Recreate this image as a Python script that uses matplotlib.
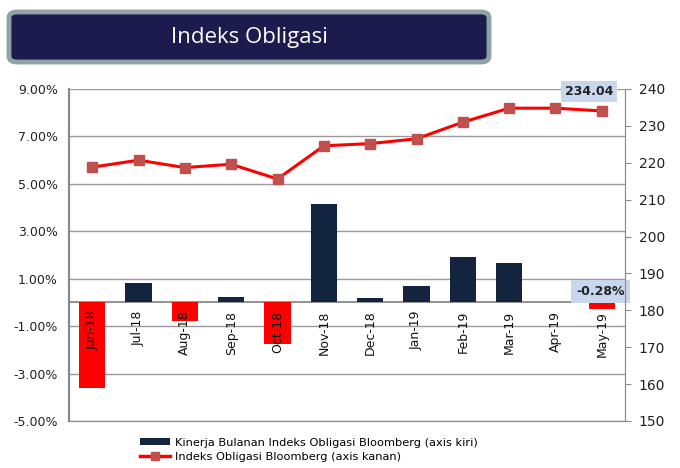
"""
Indeks Obligasi: monthly bond index return (bars, left axis) vs index level (line, right axis).
"""
import matplotlib
matplotlib.use('Agg')
import matplotlib.pyplot as plt
from matplotlib.patches import FancyBboxPatch, Patch
from matplotlib.lines import Line2D

months = ["Jun-18", "Jul-18", "Aug-18", "Sep-18", "Oct-18", "Nov-18",
          "Dec-18", "Jan-19", "Feb-19", "Mar-19", "Apr-19", "May-19"]
monthly_return = [-3.59, 0.81, -0.78, 0.24, -1.76, 4.16,
                  0.18, 0.70, 1.91, 1.68, 0.00, -0.28]
index_level = [218.8, 220.7, 218.7, 219.6, 215.6, 224.6,
               225.2, 226.5, 231.0, 234.8, 234.8, 234.04]
left_ticks = [-5, -3, -1, 1, 3, 5, 7, 9]
right_ticks = [150, 160, 170, 180, 190, 200, 210, 220, 230, 240]

NAVY = '#13243F'
RED = '#FF0000'
MARKER = '#C0504D'
GRID = '#9A9A9A'

fig = plt.figure(figsize=(6.8, 4.68), dpi=100)
ax = fig.add_axes([69 / 680, 1 - 421 / 468, 556 / 680, 332 / 468])
ax2 = ax.twinx()

x = list(range(len(months)))
bar_colors = [RED if v < 0 else NAVY for v in monthly_return]
ax.bar(x, monthly_return, width=0.57, color=bar_colors, zorder=3)

ax.set_xlim(-0.5, len(months) - 0.5)
ax.set_ylim(-5, 9)
ax.set_yticks(left_ticks)
ax.set_yticklabels([f"{t:.2f}%" for t in left_ticks])
ax.yaxis.grid(True, color=GRID, linewidth=1.0, zorder=0)
ax.axhline(0, color='#7F7F7F', linewidth=1.2, zorder=2)
ax.set_xticks([])
ax.tick_params(axis='y', length=0, labelsize=9, labelcolor='#222222', pad=8)

for i, lab in enumerate(months):
    ax.text(i, -0.35, lab, rotation=90, ha='center', va='top',
            fontsize=9, color='#111111', zorder=4)

for a in (ax, ax2):
    a.spines['left'].set_color('#7F8A99')
    a.spines['left'].set_linewidth(1.5)
    a.spines['right'].set_color('#8C8C8C')
    a.spines['bottom'].set_color('#8C8C8C')
    a.spines['top'].set_visible(False)

ax2.plot(x, index_level, color=RED, linewidth=2.2, marker='s', markersize=6.5,
         markerfacecolor=MARKER, markeredgecolor=MARKER, zorder=5)
ax2.set_ylim(150, 240)
ax2.set_yticks(right_ticks)
ax2.tick_params(axis='y', length=4, color='#8C8C8C', labelsize=10,
                labelcolor='#222222', pad=6)

# data labels
ax2.annotate(f"{index_level[-1]:.2f}", xy=(x[-1], index_level[-1]),
             xytext=(-9, 14), textcoords='offset points', ha='center', va='center',
             fontsize=9, fontweight='bold', color='#222222',
             bbox=dict(boxstyle='square,pad=0.3', facecolor='#C9D7EE', edgecolor='none'),
             zorder=6, annotation_clip=False)
ax.annotate(f"{monthly_return[-1]:.2f}%", xy=(x[-1], monthly_return[-1]),
            xytext=(-1, 13), textcoords='offset points', ha='center', va='center',
            fontsize=9, fontweight='bold', color='#222222',
            bbox=dict(boxstyle='square,pad=0.4', facecolor='#C9D7EE', edgecolor='none'),
            zorder=6)

# title banner
banner = FancyBboxPatch((9 / 680, 1 - 62 / 468), 480 / 680, 50 / 468,
                        boxstyle='round,pad=0,rounding_size=0.012',
                        transform=fig.transFigure, facecolor='#1B1B4D',
                        edgecolor='#8DA3A4', linewidth=3.5)
fig.patches.append(banner)
fig.text(249 / 680, 1 - 37 / 468, "Indeks Obligasi", ha='center', va='center',
         fontsize=16, color='white', family='Open Sans')

handles = [Patch(facecolor=NAVY, edgecolor='none'),
           Line2D([], [], color=RED, linewidth=2.5, marker='s', markersize=6,
                  markerfacecolor=MARKER, markeredgecolor=MARKER)]
fig.legend(handles, ["Kinerja Bulanan Indeks Obligasi Bloomberg (axis kiri)",
                     "Indeks Obligasi Bloomberg (axis kanan)"],
           loc='upper left', bbox_to_anchor=(134 / 680, 1 - 432 / 468),
           frameon=False, fontsize=8.2, handlelength=2.7, handleheight=0.6,
           labelspacing=0.4, handletextpad=0.4, borderpad=0)

plt.savefig("out.png", dpi=100)
